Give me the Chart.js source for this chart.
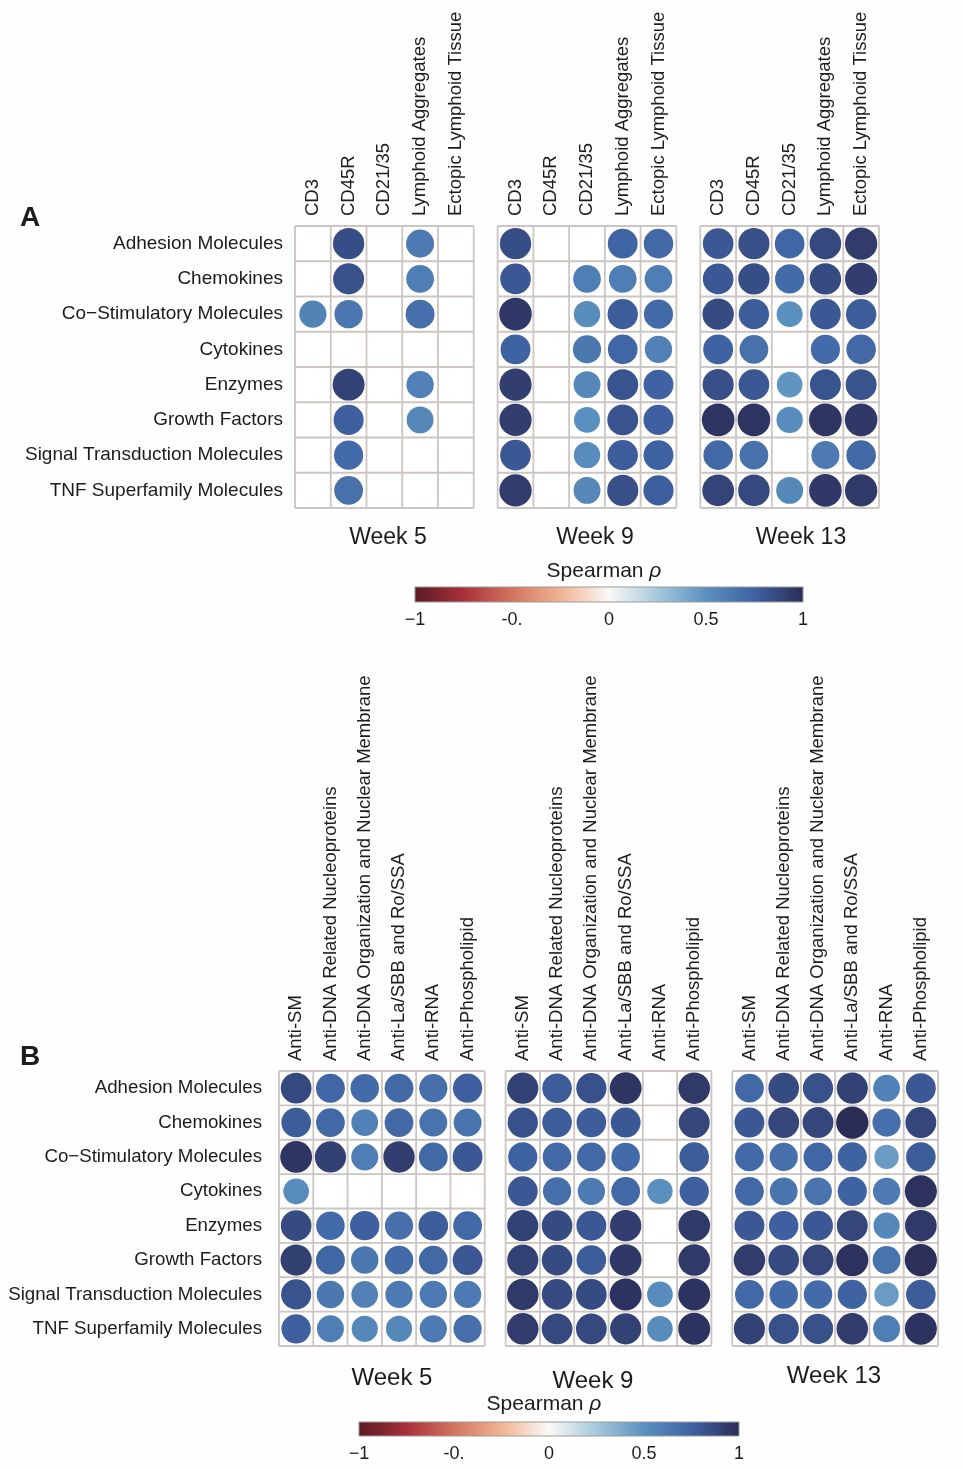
<!DOCTYPE html>
<html>
<head>
<meta charset="utf-8">
<script src="https://cdn.jsdelivr.net/npm/chart.js@4.4.0/dist/chart.umd.min.js"></script>
<style>
  body { margin: 0; background: #fefefe; font-family: "Liberation Sans", Arial, sans-serif; color: #1c1c1c; }
  #page { position: relative; width: 963px; height: 1469px; overflow: hidden; }
  canvas { position: absolute; left: 0; }
  .lbl { position: absolute; transform: translate(-50%, -50%); white-space: nowrap; }
  .tag { position: absolute; transform: translate(-50%, -50%); font-weight: bold; font-size: 28px; }
</style>
</head>
<body>
<div id="page">
  <canvas id="gridA" width="963" height="545" style="top:0"></canvas>
  <canvas id="barA" width="963" height="64" style="top:570px"></canvas>
  <canvas id="gridB" width="963" height="740" style="top:640px"></canvas>
  <canvas id="barB" width="963" height="64" style="top:1405px"></canvas>

  <div class="tag" style="left:30px;top:217px">A</div>
  <div class="tag" style="left:30px;top:1056px">B</div>

  <div class="lbl" style="left:388px;top:536px;font-size:23px">Week 5</div>
  <div class="lbl" style="left:595px;top:536px;font-size:23px">Week 9</div>
  <div class="lbl" style="left:801px;top:536px;font-size:23px">Week 13</div>
  <div class="lbl" style="left:604px;top:570px;font-size:21px">Spearman <i>ρ</i></div>

  <div class="lbl" style="left:392px;top:1377px;font-size:24px">Week 5</div>
  <div class="lbl" style="left:593px;top:1380px;font-size:24px">Week 9</div>
  <div class="lbl" style="left:834px;top:1375px;font-size:24px">Week 13</div>
  <div class="lbl" style="left:544px;top:1403px;font-size:21px">Spearman <i>ρ</i></div>
</div>

<script>
/* ---------- data ---------- */
const rowNames = [
  "Adhesion Molecules", "Chemokines", "Co\u2212Stimulatory Molecules", "Cytokines",
  "Enzymes", "Growth Factors", "Signal Transduction Molecules", "TNF Superfamily Molecules"
];
const colsA = ["CD3", "CD45R", "CD21/35", "Lymphoid Aggregates", "Ectopic Lymphoid Tissue"];
const colsB = [
  "Anti-SM", "Anti-DNA Related Nucleoproteins", "Anti-DNA Organization and Nuclear Membrane",
  "Anti-La/SBB and Ro/SSA", "Anti-RNA", "Anti-Phospholipid"
];

// Spearman rho per row (class) x column, null = not shown
const rhoA5 = [
  [null, 0.85, null, 0.62, null],
  [null, 0.83, null, 0.60, null],
  [0.57, 0.64, null, 0.68, null],
  [null, null, null, null, null],
  [null, 0.90, null, 0.58, null],
  [null, 0.76, null, 0.55, null],
  [null, 0.70, null, null, null],
  [null, 0.67, null, null, null]
];
const rhoA9 = [
  [0.85, null, null, 0.74, 0.72],
  [0.80, null, 0.60, 0.60, 0.60],
  [0.95, null, 0.52, 0.78, 0.70],
  [0.75, null, 0.63, 0.73, 0.58],
  [0.92, null, 0.55, 0.82, 0.75],
  [0.92, null, 0.50, 0.82, 0.76],
  [0.80, null, 0.52, 0.78, 0.75],
  [0.93, null, 0.55, 0.84, 0.77]
];
const rhoA13 = [
  [0.80, 0.84, 0.73, 0.87, 0.93],
  [0.80, 0.85, 0.70, 0.86, 0.92],
  [0.86, 0.78, 0.50, 0.80, 0.78],
  [0.75, 0.67, null, 0.70, 0.72],
  [0.84, 0.80, 0.48, 0.82, 0.82],
  [0.96, 0.96, 0.52, 0.96, 0.95],
  [0.72, 0.67, null, 0.62, 0.72],
  [0.89, 0.87, 0.55, 0.95, 0.94]
];
const rhoB5 = [
  [0.87, 0.73, 0.70, 0.72, 0.68, 0.76],
  [0.78, 0.72, 0.58, 0.72, 0.66, 0.66],
  [0.96, 0.91, 0.60, 0.92, 0.72, 0.80],
  [0.52, null, null, null, null, null],
  [0.86, 0.70, 0.76, 0.68, 0.78, 0.72],
  [0.91, 0.73, 0.63, 0.70, 0.72, 0.80],
  [0.82, 0.63, 0.58, 0.62, 0.62, 0.62],
  [0.76, 0.60, 0.55, 0.55, 0.62, 0.68]
];
const rhoB9 = [
  [0.90, 0.78, 0.83, 0.96, null, 0.94],
  [0.83, 0.78, 0.78, 0.80, null, 0.88],
  [0.75, 0.72, 0.72, 0.70, null, 0.78],
  [0.80, 0.68, 0.62, 0.72, 0.50, 0.76],
  [0.90, 0.86, 0.80, 0.92, null, 0.94],
  [0.90, 0.86, 0.78, 0.95, null, 0.94],
  [0.94, 0.86, 0.86, 0.97, 0.52, 0.97],
  [0.93, 0.87, 0.87, 0.90, 0.52, 0.97]
];
const rhoB13 = [
  [0.72, 0.86, 0.83, 0.90, 0.58, 0.80],
  [0.80, 0.88, 0.88, 1.00, 0.68, 0.88],
  [0.72, 0.68, 0.73, 0.75, 0.45, 0.78],
  [0.72, 0.65, 0.65, 0.75, 0.62, 0.98],
  [0.80, 0.76, 0.80, 0.88, 0.55, 0.94],
  [0.93, 0.86, 0.88, 0.98, 0.66, 0.99],
  [0.72, 0.70, 0.70, 0.75, 0.45, 0.78],
  [0.90, 0.83, 0.83, 0.93, 0.60, 0.97]
];

const barTicks = [-1, -0.5, 0, 0.5, 1];
const barTickLabels = ["\u22121", "-0.", "0", "0.5", "1"];

/* ---------- colour scale ---------- */
const colourStops = [
  [-1, [90, 27, 36]], [-0.75, [168, 48, 58]], [-0.5, [210, 116, 94]], [-0.25, [240, 180, 147]],
  [0, [251, 249, 246]], [0.25, [166, 200, 220]], [0.5, [90, 144, 191]], [0.75, [63, 98, 163]],
  [1, [43, 45, 87]]
];

function rhoColour(v) {
  for (let i = 1; i < colourStops.length; i++) {
    const [v1, c1] = colourStops[i];
    const [v0, c0] = colourStops[i - 1];
    if (v <= v1) {
      const t = (v - v0) / (v1 - v0);
      const c = c0.map((a, k) => Math.round(a + (c1[k] - a) * t));
      return `rgb(${c[0]},${c[1]},${c[2]})`;
    }
  }
  const c = colourStops[colourStops.length - 1][1];
  return `rgb(${c[0]},${c[1]},${c[2]})`;
}

const TEXT = "#1c1c1c";
const LINE = "#cdc5c1";
const FONT = "'Liberation Sans', Arial, sans-serif";

/* ---------- matrix grid plugin ---------- */
const cellGrid = {
  id: "cellGrid",
  beforeDatasetsDraw(chart, args, opts) {
    const { ctx, scales: { x, y } } = chart;
    const { nCols, nGrids, gap } = opts;
    ctx.save();
    ctx.strokeStyle = LINE;
    ctx.lineWidth = 1.8;
    for (let g = 0; g < nGrids; g++) {
      const x0 = g * (nCols + gap);
      const top = y.getPixelForValue(0), bottom = y.getPixelForValue(rowNames.length);
      const left = x.getPixelForValue(x0), right = x.getPixelForValue(x0 + nCols);
      ctx.fillStyle = "#ffffff";
      ctx.fillRect(left, top, right - left, bottom - top);
      ctx.beginPath();
      for (let c = 0; c <= nCols; c++) {
        const px = x.getPixelForValue(x0 + c);
        ctx.moveTo(px, top); ctx.lineTo(px, bottom);
      }
      for (let r = 0; r <= rowNames.length; r++) {
        const py = y.getPixelForValue(r);
        ctx.moveTo(left, py); ctx.lineTo(right, py);
      }
      ctx.stroke();
    }
    ctx.restore();
  }
};

function buildGrid(id, cols, mats, gap, box, fonts) {
  const canvas = document.getElementById(id);
  const W = canvas.width, H = canvas.height;
  const nc = cols.length, step = nc + gap;

  const points = [];
  const xTicks = [];
  mats.forEach((m, g) => {
    cols.forEach((_, c) => xTicks.push(g * step + c + 0.5));
    m.forEach((row, r) => row.forEach((v, c) => {
      if (v !== null) points.push({ x: g * step + c + 0.5, y: r + 0.5, v });
    }));
  });
  const yTicks = rowNames.map((_, r) => r + 0.5);

  const cellPx = chart => Math.abs(chart.scales.y.getPixelForValue(1) - chart.scales.y.getPixelForValue(0));
  const dotR = ctx => cellPx(ctx.chart) * 0.47 * Math.pow(Math.abs(ctx.raw.v), 0.35);

  return new Chart(canvas, {
    type: "scatter",
    data: {
      datasets: [{
        data: points,
        pointBackgroundColor: ctx => rhoColour(ctx.raw.v),
        pointBorderWidth: 0,
        pointRadius: dotR,
        pointHoverRadius: dotR
      }]
    },
    options: {
      responsive: false,
      animation: false,
      events: [],
      layout: { padding: { left: 0, top: 0, right: W - box.right, bottom: H - box.bottom } },
      plugins: {
        legend: { display: false },
        tooltip: { enabled: false },
        cellGrid: { nCols: nc, nGrids: mats.length, gap }
      },
      scales: {
        x: {
          type: "linear",
          position: "top",
          min: 0,
          max: mats.length * nc + (mats.length - 1) * gap,
          grid: { display: false, drawTicks: false },
          border: { display: false },
          afterBuildTicks: s => { s.ticks = xTicks.map(v => ({ value: v })); },
          afterFit: s => { s.height = box.top; s.paddingLeft = 0; s.paddingRight = 0; },
          ticks: {
            autoSkip: false,
            minRotation: 90,
            maxRotation: 90,
            padding: 10,
            labelOffset: fonts.col * 1.2,
            color: TEXT,
            font: { family: FONT, size: fonts.col },
            callback: (v, i) => cols[i % nc]
          }
        },
        y: {
          type: "linear",
          reverse: true,
          min: 0,
          max: rowNames.length,
          grid: { display: false, drawTicks: false },
          border: { display: false },
          afterBuildTicks: s => { s.ticks = yTicks.map(v => ({ value: v })); },
          afterFit: s => { s.width = box.left; s.paddingTop = 0; s.paddingBottom = 0; },
          ticks: {
            autoSkip: false,
            padding: fonts.rowPad,
            color: TEXT,
            font: { family: FONT, size: fonts.row },
            callback: (v, i) => rowNames[i]
          }
        }
      }
    },
    plugins: [cellGrid]
  });
}

/* ---------- colour bar ---------- */
const gradientBar = {
  id: "gradientBar",
  beforeDatasetsDraw(chart) {
    const { ctx, chartArea: a, scales: { x } } = chart;
    const grad = ctx.createLinearGradient(a.left, 0, a.right, 0);
    colourStops.forEach(([v, c]) => {
      grad.addColorStop((x.getPixelForValue(v) - a.left) / (a.right - a.left), `rgb(${c[0]},${c[1]},${c[2]})`);
    });
    ctx.save();
    ctx.fillStyle = grad;
    ctx.fillRect(a.left, a.top, a.right - a.left, a.bottom - a.top);
    ctx.strokeStyle = "#9a9a9a";
    ctx.lineWidth = 1;
    ctx.strokeRect(a.left, a.top, a.right - a.left, a.bottom - a.top);
    ctx.restore();
  }
};

function buildBar(id, left, right, barTop, barH) {
  const canvas = document.getElementById(id);
  const W = canvas.width, H = canvas.height;
  const axisH = 30;
  return new Chart(canvas, {
    type: "scatter",
    data: { datasets: [{ data: [] }] },
    options: {
      responsive: false,
      animation: false,
      events: [],
      layout: { padding: { left, right: W - right, top: barTop, bottom: H - barTop - barH - axisH } },
      plugins: { legend: { display: false }, tooltip: { enabled: false } },
      scales: {
        x: {
          type: "linear",
          min: -1,
          max: 1,
          grid: { display: false, drawTicks: false },
          border: { display: false },
          afterBuildTicks: s => { s.ticks = barTicks.map(v => ({ value: v })); },
          afterFit: s => { s.height = axisH; s.paddingLeft = 0; s.paddingRight = 0; },
          ticks: {
            autoSkip: false,
            maxRotation: 0,
            padding: 7,
            color: TEXT,
            font: { family: FONT, size: 18 },
            callback: (v, i) => barTickLabels[i]
          }
        },
        y: { display: false, min: 0, max: 1 }
      }
    },
    plugins: [gradientBar]
  });
}

buildGrid("gridA", colsA, [rhoA5, rhoA9, rhoA13], 0.67,
  { left: 295, top: 226, right: 879, bottom: 508 }, { col: 18.5, row: 19, rowPad: 12 });
buildGrid("gridB", colsB, [rhoB5, rhoB9, rhoB13], 0.61,
  { left: 279, top: 431, right: 938, bottom: 706 }, { col: 18.5, row: 18.7, rowPad: 17 });
buildBar("barA", 415, 803, 17, 15);
buildBar("barB", 359, 739, 17, 14);
</script>
</body>
</html>
